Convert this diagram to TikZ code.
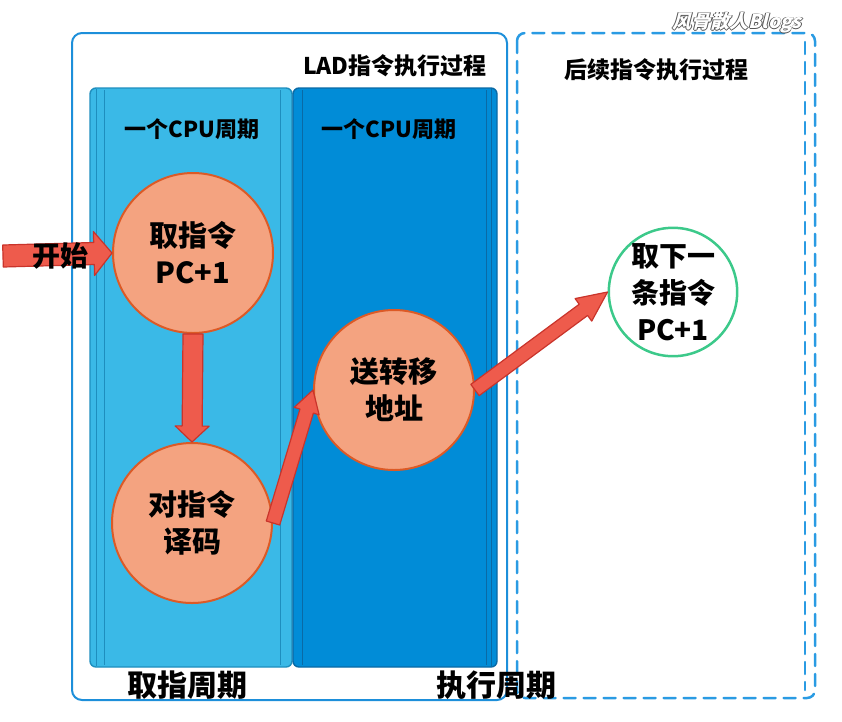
\documentclass[tikz,border=0pt]{standalone}
\usepackage{fontspec}
\setmainfont{Noto Sans CJK SC}
\newfontfamily\wmfont[FakeSlant=0.25]{Noto Sans CJK SC}
\usetikzlibrary{calc}
\definecolor{lightcol}{HTML}{3AB9E7}
\definecolor{darkcol}{HTML}{018CD7}
\definecolor{lightedge}{HTML}{1E8EBE}
\definecolor{darkedge}{HTML}{0A6AA5}
\definecolor{boxblue}{HTML}{1D8FDA}
\definecolor{dashblue}{HTML}{2A9BE3}
\definecolor{circfill}{HTML}{F4A380}
\definecolor{circedge}{HTML}{DC5A26}
\definecolor{greenedge}{HTML}{3CC98A}
\definecolor{arrfill}{HTML}{EE5B4C}
\definecolor{arredge}{HTML}{C9342B}
\definecolor{wmgray}{HTML}{555555}
% fat block arrow: from, to, shaft half width, head half width, head length
\newcommand{\fatarrow}[5]{%
  \draw[fatarr] let \p1=(#1), \p2=(#2),
    \n1={atan2(\y2-\y1,\x2-\x1)}, \n2={veclen(\x2-\x1,\y2-\y1)} in
    [shift={(\p1)}, rotate=\n1]
    (0pt,-#3) -- (\n2-#5,-#3) -- (\n2-#5,-#4) -- (\n2,0pt) --
    (\n2-#5,#4) -- (\n2-#5,#3) -- (0pt,#3) -- cycle;}
\newcommand{\wmtext}[1]{\leavevmode
  \rlap{\color{wmgray}\hspace{-0.8pt}#1}%
  \rlap{\color{wmgray}\hspace{0.8pt}#1}%
  \rlap{\color{wmgray}\raisebox{0.8pt}{#1}}%
  \rlap{\color{wmgray}\raisebox{-0.8pt}{#1}}%
  {\color{white}#1}}
\tikzset{
  fatarr/.style={fill=arrfill, draw=arredge, line width=1.2pt, line join=round},
  proc/.style={circle, fill=circfill, draw=circedge, line width=2pt,
    minimum size=160pt, inner sep=0pt, align=center,
    font=\fontsize{29}{37}\selectfont\bfseries},
  nextproc/.style={circle, fill=white, draw=greenedge, line width=2.5pt,
    minimum size=126pt, inner sep=0pt, align=center,
    font=\fontsize{28}{37}\selectfont\bfseries},
  coltitle/.style={font=\fontsize{22}{26}\selectfont\bfseries, inner sep=0pt},
  boxtitle/.style={font=\fontsize{23}{27}\selectfont\bfseries, inner sep=0pt},
  phase/.style={font=\fontsize{30}{34}\selectfont\bfseries, inner sep=0pt},
  column/.style={line width=1.4pt, rounded corners=6pt},
  sketch/.style={line width=0.8pt},
  dashline/.style={dashblue, line width=2.5pt, dash pattern=on 12pt off 8pt, line cap=round}
}
\begin{document}
\begin{tikzpicture}[x=1pt, y=-1pt]
\useasboundingbox (0,0) rectangle (842,721);
% outer boxes
\draw[boxblue, line width=2pt, rounded corners=10pt] (72,33) rectangle (507,700);
\draw[dashline, rounded corners=8pt] (517,33) rectangle (815,698);
\draw[dashline] (805,42) -- (805,690);
% columns
\draw[column, fill=lightcol, draw=lightedge] (90,88) rectangle (292,667);
\draw[sketch, lightedge] (104,90) -- (104,665) (280,90) -- (280,665) (96,89) -- (96,666);
\draw[column, fill=darkcol, draw=darkedge] (293,88) rectangle (497,667);
\draw[sketch, darkedge] (302,90) -- (302,665) (486,90) -- (486,665) (491,89) -- (491,666);
% titles
\node[boxtitle] (ladt) at (395,66) {LAD指令执行过程};
\node[boxtitle] (nextt) at (656,70) {后续指令执行过程};
\node[coltitle] (cyc1) at (192,129) {一个CPU周期};
\node[coltitle] (cyc2) at (389,129) {一个CPU周期};
% process nodes
\node[proc] (c1) at (193,253) {取指令\\PC+1};
\node[proc] (c2) at (192,523) {对指令\\译码};
\node[proc] (c3) at (394,390) {送转移\\地址};
\node[nextproc] (c4) at (673,292) {取下一\\条指令\\PC+1};
% arrows
\coordinate (startpt) at (3,256);
\fatarrow{startpt}{c1.west}{11pt}{22pt}{18pt}
\node[font=\fontsize{28}{32}\selectfont\bfseries, inner sep=0pt] (startl) at (60,256) {开始};
\fatarrow{c1.south}{c2.north}{10pt}{17pt}{16pt}
\fatarrow{c2.east}{c3.west}{7pt}{13pt}{22pt}
\fatarrow{c3.east}{c4.west}{7pt}{14pt}{30pt}
% phase labels
\node[phase] (fetch) at (187,685) {取指周期};
\node[phase] (exec) at (496,685) {执行周期};
% watermark
\node[font=\fontsize{19}{22}\selectfont\wmfont\bfseries, inner sep=0pt] (wm) at (737,23) {\wmtext{风骨散人Blogs}};
\end{tikzpicture}
\end{document}
